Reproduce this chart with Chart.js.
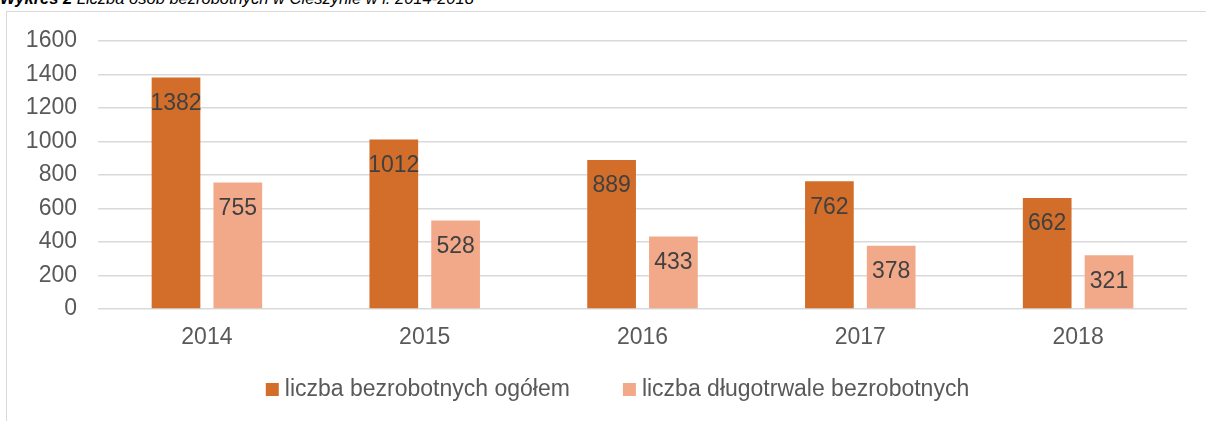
<!DOCTYPE html>
<html lang="pl">
<head>
<meta charset="utf-8">
<title>Wykres 2</title>
<script src="https://cdn.jsdelivr.net/npm/chart.js@4/dist/chart.umd.min.js"></script>
<style>
  body { margin: 0; background: #fff; width: 1206px; height: 421px; overflow: hidden; position: relative; font-family: "Liberation Sans", Arial, sans-serif; }
  #title { position: absolute; left: 0; top: -10px; font-size: 16.5px; line-height: 17px; font-style: italic; white-space: nowrap; color: #000; }
  #frame { position: absolute; left: 6px; top: 11px; width: 1300px; height: 500px; border: 1px solid #d9d9d9; }
  #chart { position: absolute; left: 0; top: 0; }
</style>
</head>
<body>
<div id="title"><b>Wykres 2</b> Liczba osób bezrobotnych w Cieszynie w l. 2014-2018</div>
<div id="frame"></div>
<canvas id="chart" width="1206" height="421"></canvas>
<script>
// dane z wykresu
const years = ["2014", "2015", "2016", "2017", "2018"];
const ogolem = [1382, 1012, 889, 762, 662];
const dlugotrwale = [755, 528, 433, 378, 321];
const seriesNames = ["liczba bezrobotnych ogółem", "liczba długotrwale bezrobotnych"];
const yMax = 1600;
const yStep = 200;

const FONT = "Liberation Sans";
const FSIZE = 23;

// etykiety wartości wewnątrz słupków, przy górnej krawędzi
const valueLabels = {
  id: "valueLabels",
  afterDatasetsDraw(chart) {
    const ctx = chart.ctx;
    ctx.save();
    ctx.font = FSIZE + "px " + FONT;
    ctx.fillStyle = "#404040";
    ctx.textAlign = "center";
    ctx.textBaseline = "middle";
    chart.data.datasets.forEach((ds, i) => {
      chart.getDatasetMeta(i).data.forEach((bar, j) => {
        ctx.fillText(String(ds.data[j]), bar.x, bar.y + 26);
      });
    });
    ctx.restore();
  }
};

// legenda w stylu Excela: mały kwadrat tuż przy tekście
const boxLegend = {
  id: "boxLegend",
  afterDraw(chart) {
    const ctx = chart.ctx;
    const box = 13, gapText = 6, gapItem = 53, cy = 389.5;
    ctx.save();
    ctx.font = FSIZE + "px " + FONT;
    ctx.textBaseline = "middle";
    ctx.textAlign = "left";
    const items = chart.data.datasets.map(ds => ({
      text: ds.label,
      color: ds.backgroundColor,
      w: box + gapText + ctx.measureText(ds.label).width
    }));
    const total = items.reduce((s, it) => s + it.w, 0) + gapItem * (items.length - 1);
    let x = 617.5 - total / 2;
    items.forEach(it => {
      ctx.fillStyle = it.color;
      ctx.fillRect(x, cy - box / 2, box, box);
      ctx.fillStyle = "#595959";
      ctx.fillText(it.text, x + box + gapText, cy);
      x += it.w + gapItem;
    });
    ctx.restore();
  }
};

new Chart(document.getElementById("chart"), {
  type: "bar",
  data: {
    labels: years,
    datasets: [
      { label: seriesNames[0], data: ogolem, backgroundColor: "#D36E2A" },
      { label: seriesNames[1], data: dlugotrwale, backgroundColor: "#F1A98A" }
    ]
  },
  options: {
    responsive: false,
    animation: false,
    devicePixelRatio: 1,
    categoryPercentage: 0.5675,
    barPercentage: 0.788,
    layout: { padding: { left: 0, right: 19, top: 41, bottom: 0 } },
    plugins: {
      legend: { display: false },
      tooltip: { enabled: false }
    },
    scales: {
      x: {
        grid: { display: false, drawTicks: false },
        border: { display: false },
        ticks: { color: "#595959", font: { family: FONT, size: FSIZE }, padding: 15 },
        afterFit(scale) { scale.height = 112; }
      },
      y: {
        min: 0,
        max: yMax,
        grid: { color: "#d9d9d9", lineWidth: 1.5, drawTicks: false },
        border: { display: false },
        ticks: {
          stepSize: yStep,
          color: "#595959",
          font: { family: FONT, size: FSIZE },
          padding: 21,
          callback: v => String(v)
        },
        afterFit(scale) { scale.width = 98; }
      }
    }
  },
  plugins: [valueLabels, boxLegend]
});
</script>
</body>
</html>
